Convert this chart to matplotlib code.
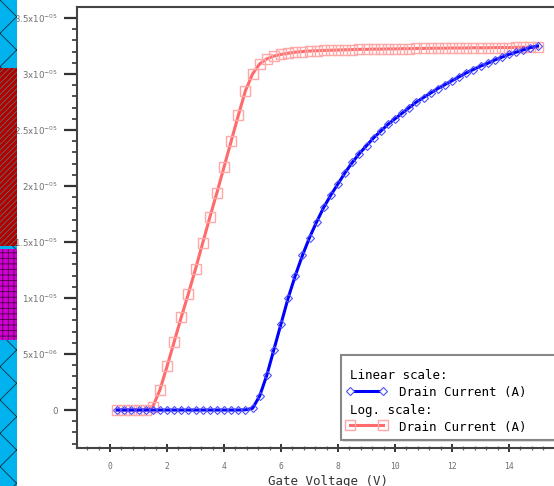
import numpy as np
import matplotlib
matplotlib.use('Agg')
from matplotlib import pyplot as plt
from matplotlib.ticker import MultipleLocator, FixedLocator, FuncFormatter
from matplotlib.patches import Rectangle
from matplotlib.lines import Line2D

# Gate voltage sweep (V)
gate_voltage = [0.25, 0.5, 0.75, 1.0, 1.25, 1.5, 1.75, 2.0, 2.25, 2.5,
                2.75, 3.0, 3.25, 3.5, 3.75, 4.0, 4.25, 4.5, 4.75, 5.0,
                5.25, 5.5, 5.75, 6.0, 6.25, 6.5, 6.75, 7.0, 7.25, 7.5,
                7.75, 8.0, 8.25, 8.5, 8.75, 9.0, 9.25, 9.5, 9.75, 10.0,
                10.25, 10.5, 10.75, 11.0, 11.25, 11.5, 11.75, 12.0, 12.25, 12.5,
                12.75, 13.0, 13.25, 13.5, 13.75, 14.0, 14.25, 14.5, 14.75, 15.0]

# Drain current, micro-amps ("Linear scale" curve)
linear_current_ua = [0, 0, 0, 0, 0, 0, 0, 0, 0, 0,
                     0, 0, 0, 0, 0, 0, 0, 0, 0.02, 0.15,
                     1.25, 3.1, 5.4, 7.7, 10.0, 12.0, 13.8, 15.4, 16.8, 18.1,
                     19.2, 20.2, 21.2, 22.1, 22.9, 23.6, 24.3, 24.9, 25.5, 26.0,
                     26.5, 27.0, 27.5, 27.9, 28.3, 28.7, 29.05, 29.4, 29.75, 30.1,
                     30.4, 30.7, 30.95, 31.25, 31.5, 31.75, 31.95, 32.15, 32.35, 32.5]

# Drain current, micro-amps ("Log. scale" curve)
log_current_ua = [0, 0, 0, 0, 0, 0.3, 1.8, 3.9, 6.1, 8.3,
                  10.4, 12.6, 14.9, 17.2, 19.4, 21.7, 24.0, 26.3, 28.5, 30.0,
                  30.9, 31.35, 31.6, 31.75, 31.85, 31.95, 32.0, 32.05, 32.08, 32.1,
                  32.12, 32.14, 32.16, 32.18, 32.2, 32.2, 32.22, 32.22, 32.24, 32.24,
                  32.26, 32.26, 32.28, 32.28, 32.3, 32.3, 32.3, 32.32, 32.32, 32.32,
                  32.34, 32.34, 32.34, 32.36, 32.36, 32.36, 32.38, 32.38, 32.4, 32.4]

y_ticks = [0, 5e-6, 1e-5, 1.5e-5, 2e-5, 2.5e-5, 3e-5, 3.5e-5]
x_ticks = [0, 2, 4, 6, 8, 10, 12, 14]

W, H = 554, 486
MONO = 'DejaVu Sans Mono'


def px(x, y):
    # pixel position (from top-left) -> figure fraction
    return x / W, 1 - y / H


def sci_label(val, pos=None):
    if val == 0:
        return '0'
    exp = int(np.floor(np.log10(abs(val)) + 1e-9))
    mant = val / 10 ** exp
    mant_s = ('%.1f' % mant).rstrip('0').rstrip('.')
    return r'$\mathregular{%sx10^{-%02d}}$' % (mant_s, -exp)


def draw_side_strip(fig):
    plt.rcParams['hatch.linewidth'] = 0.6
    fig.patches.append(Rectangle(px(0, 486), 17 / W, 1, transform=fig.transFigure,
                                 fc='#00b2ee', ec='#0a3040', hatch='x', lw=0, zorder=0))
    fig.patches.append(Rectangle(px(0, 246), 17 / W, 178 / H, transform=fig.transFigure,
                                 fc='#b00000', ec='#6a6a6a', hatch='//////', lw=0, zorder=1))
    fig.patches.append(Rectangle(px(0, 340), 17 / W, 91 / H, transform=fig.transFigure,
                                 fc='#d000d0', ec='#500050', hatch='+++', lw=0, zorder=1))


def draw_legend(fig):
    x0, y0 = px(341, 440)
    fig.patches.append(Rectangle((x0 + 2 / W, y0 - 2 / H), 230 / W, 85 / H,
                                 transform=fig.transFigure, fc='#dddddd', ec='none', zorder=5))
    fig.patches.append(Rectangle((x0, y0), 230 / W, 85 / H, transform=fig.transFigure,
                                 fc='white', ec='#888888', lw=1.5, zorder=6))
    fig.text(*px(350, 375), 'Linear scale:', family=MONO, fontsize=9,
             va='center', ha='left', zorder=7)
    fig.text(*px(350, 410), 'Log. scale:', family=MONO, fontsize=9,
             va='center', ha='left', zorder=7)
    fig.text(*px(399, 392), 'Drain Current (A)', family=MONO, fontsize=9,
             va='center', ha='left', zorder=7)
    fig.text(*px(399, 427), 'Drain Current (A)', family=MONO, fontsize=9,
             va='center', ha='left', zorder=7)
    xa, ya = px(350, 391)
    xb, _ = px(383, 391)
    fig.lines.append(Line2D([xa, xb], [ya, ya], transform=fig.transFigure,
                            color='#0000ff', lw=2.2, marker='D', ms=4.3, mfc='white',
                            mec='#5050ff', mew=0.8, zorder=7))
    xa, ya = px(350, 425)
    xb, _ = px(383, 425)
    fig.lines.append(Line2D([xa, xb], [ya, ya], transform=fig.transFigure,
                            color='#ff6b6b', lw=2.2, marker='s', ms=7, mfc='none',
                            mec='#ffa8a8', mew=1.0, zorder=7))


def main():
    fig = plt.figure(figsize=(W / 100, H / 100), dpi=100)
    draw_side_strip(fig)

    left, top, bottom, right = 77, 7, 448, 566
    ax = fig.add_axes([left / W, 1 - bottom / H, (right - left) / W, (bottom - top) / H])
    ax.set_xlim(-1.16, 16.0)
    ax.set_ylim(-3.39e-6, 3.598e-5)

    v = np.array(gate_voltage)
    ax.plot(v, np.array(log_current_ua) * 1e-6, color='#ff6b6b', lw=2.2,
            marker='s', ms=7, mfc='none', mec='#ffa8a8', mew=1.0, zorder=2)
    ax.plot(v, np.array(linear_current_ua) * 1e-6, color='#0000ff', lw=2.2,
            marker='D', ms=4.3, mfc='none', mec='#5050ff', mew=0.8, zorder=3)

    for s in ax.spines.values():
        s.set_color('#444444')
        s.set_linewidth(1.5)

    ax.yaxis.set_major_locator(FixedLocator(y_ticks))
    ax.yaxis.set_minor_locator(MultipleLocator(1e-6))
    ax.yaxis.set_major_formatter(FuncFormatter(sci_label))
    ax.xaxis.set_major_locator(FixedLocator(x_ticks))
    ax.xaxis.set_minor_locator(MultipleLocator(0.4))

    ax.tick_params(axis='y', which='major', direction='out', length=9.5, width=1.6,
                   color='#333333', labelcolor='#6f6f6f', labelsize=6.2, pad=4)
    ax.tick_params(axis='y', which='minor', direction='out', length=3.8, width=1.2,
                   color='#333333')
    ax.tick_params(axis='x', which='major', direction='inout', length=6, width=1.4,
                   color='#333333', labelcolor='#6f6f6f', labelsize=5.8, pad=7)
    ax.tick_params(axis='x', which='minor', direction='inout', length=3, width=0.9,
                   color='#666666')
    for lab in ax.get_xticklabels():
        lab.set_family(MONO)

    fig.text(*px(328, 481), 'Gate Voltage (V)', family=MONO, fontsize=9,
             color='#333333', ha='center', va='center')

    draw_legend(fig)
    fig.savefig('out.png', dpi=100)


if __name__ == '__main__':
    main()
